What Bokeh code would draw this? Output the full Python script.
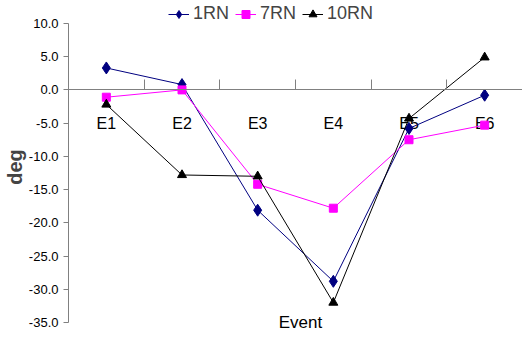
from bokeh.plotting import figure
from bokeh.models import (Range1d, LinearAxis, FixedTicker, NumeralTickFormatter,
                          Legend, LegendItem, Label)
from bokeh.core.properties import value
from bokeh.embed import file_html
from bokeh.resources import INLINE

categories = ["E1", "E2", "E3", "E4", "E5", "E6"]
rn1 = [3.3, 0.8, -18.1, -28.8, -5.8, -0.8]
rn7 = [-1.1, 0.0, -14.2, -17.8, -7.5, -5.3]
rn10 = [-2.2, -12.8, -13.0, -32.0, -4.3, 4.9]
series_names = ["1RN", "7RN", "10RN"]
y_ticks = [10, 5, 0, -5, -10, -15, -20, -25, -30, -35]
x_title = "Event"
y_title = "deg"

FONT = "Liberation Sans"

xs = [i + 0.5 for i in range(len(categories))]
bounds = list(range(len(categories) + 1))

# frame extends slightly beyond the axis span so that legend and title are not clipped
p = figure(width=522, height=332, output_backend="svg", toolbar_location=None,
           x_range=Range1d(0, len(categories)), y_range=Range1d(-36.5, 13.3),
           x_axis_type=None, y_axis_type=None,
           min_border_left=10, min_border_right=0, min_border_top=1, min_border_bottom=0)
p.outline_line_color = None
p.xgrid.visible = False
p.ygrid.visible = False

# y axis
ya = LinearAxis(ticker=FixedTicker(ticks=y_ticks), formatter=NumeralTickFormatter(format="0.0"),
                axis_label=y_title, bounds=(y_ticks[-1], y_ticks[0]))
ya.axis_line_color = "#808080"
ya.major_tick_line_color = "#808080"
ya.major_tick_in = 0
ya.major_tick_out = 5
ya.minor_tick_line_color = None
ya.major_label_text_font = FONT
ya.major_label_text_font_size = "13px"
ya.major_label_text_color = "black"
ya.axis_label_text_font = FONT
ya.axis_label_text_font_style = "bold"
ya.axis_label_text_font_size = "20px"
ya.axis_label_standoff = 0
p.add_layout(ya, "left")

# x axis line at y=0 with tick marks at category boundaries
xa = LinearAxis(ticker=FixedTicker(ticks=bounds), fixed_location=0,
                major_label_overrides={b: "" for b in bounds})
xa.axis_line_color = "#808080"
xa.major_tick_line_color = "#808080"
xa.major_tick_in = 10
xa.major_tick_out = 0
xa.minor_tick_line_color = None
p.add_layout(xa, "below")

# category labels under the y=0 line
p.text(x=xs, y=[0] * len(xs), text=categories, text_align="center", text_baseline="middle",
       y_offset=34, text_font=value(FONT), text_font_size="16px", text_color="black")

# axis title at the bottom
p.add_layout(Label(x=(xs[2] + xs[3]) / 2, y=y_ticks[-1], text=x_title, text_align="center",
                   text_baseline="middle", x_offset=5, y_offset=0, text_font=FONT,
                   text_font_size="17px", text_color="black"))

colors = ["#000080", "#FF00FF", "#000000"]
markers = ["diamond", "square", "triangle"]
sizes = [12, 8, 9]
items = []
for name, vals, c, m, s in zip(series_names, [rn1, rn7, rn10], colors, markers, sizes):
    r1 = p.line(xs, vals, line_color=c, line_width=1)
    r2 = p.scatter(xs, vals, marker=m, size=s, fill_color=c, line_color=c)
    items.append(LegendItem(label=name, renderers=[r1, r2]))

legend = Legend(items=items, orientation="horizontal", location=(100, 308))
legend.border_line_color = None
legend.background_fill_alpha = 0
legend.label_text_font = FONT
legend.label_text_font_size = "18px"
legend.padding = 0
legend.margin = 0
legend.spacing = 6
legend.glyph_width = 21
legend.label_standoff = 4
p.add_layout(legend, "center")

open("out.html", "w").write(file_html(p, INLINE))
